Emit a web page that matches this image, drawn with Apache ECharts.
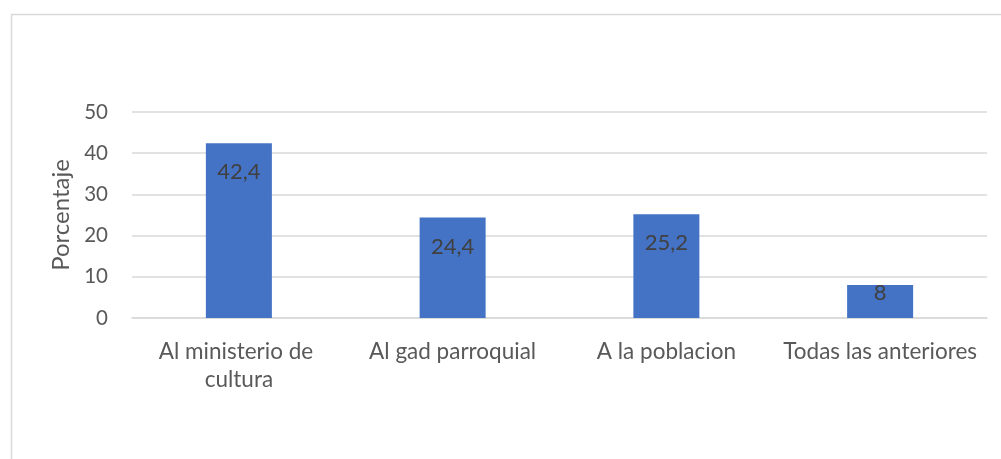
<!DOCTYPE html>
<html><head><meta charset="utf-8">
<script src="https://cdn.jsdelivr.net/npm/echarts@6/dist/echarts.min.js"></script>
<style>html,body{margin:0;padding:0;background:#fff}#c{width:1001px;height:459px}</style>
</head><body><div id="c"></div>
<script>
const categories = ['Al ministerio de cultura', 'Al gad parroquial', 'A la poblacion', 'Todas las anteriores'];
const values = [42.4, 24.4, 25.2, 8];
const yTicks = [0, 10, 20, 30, 40, 50];
const yName = 'Porcentaje';

const FONT = 'Lato';
const chart = echarts.init(document.getElementById('c'), null, {renderer: 'canvas'});
chart.setOption({
  animation: false,
  backgroundColor: '#fff',
  graphic: [{type: 'rect', shape: {x: 11.5, y: 14.5, width: 1100, height: 600}, style: {fill: 'none', stroke: '#d9d9d9', lineWidth: 1.5}, silent: true}],
  grid: {left: 132, right: 14, top: 112, bottom: 141, containLabel: false},
  xAxis: {
    type: 'category', data: categories,
    axisLine: {show: true, lineStyle: {color: '#d9d9d9', width: 1.5}},
    axisTick: {show: false},
    axisLabel: {interval: 0, color: '#595959', fontFamily: FONT, fontSize: 22.5, margin: 20, lineHeight: 28, width: 200, overflow: 'break', align: 'center'}
  },
  yAxis: {
    type: 'value', min: yTicks[0], max: yTicks[yTicks.length - 1], interval: 10,
    name: yName, nameLocation: 'middle', nameGap: 57, nameRotate: 90,
    nameTextStyle: {color: '#595959', fontFamily: FONT, fontSize: 24},
    axisLine: {show: false}, axisTick: {show: false},
    axisLabel: {color: '#595959', fontFamily: FONT, fontSize: 20.5, margin: 24},
    splitLine: {lineStyle: {color: '#d9d9d9', width: 1.5}}
  },
  series: [{
    type: 'bar', barWidth: 66,
    itemStyle: {color: '#4472C4'},
    data: values.map(v => ({value: v, label: {distance: v < 10 ? -3 : 18}})),
    label: {show: true, position: 'insideTop', color: '#404040', fontFamily: FONT, fontSize: 22,
      formatter: p => String(p.value).replace('.', ',')}
  }]
});
</script></body></html>
